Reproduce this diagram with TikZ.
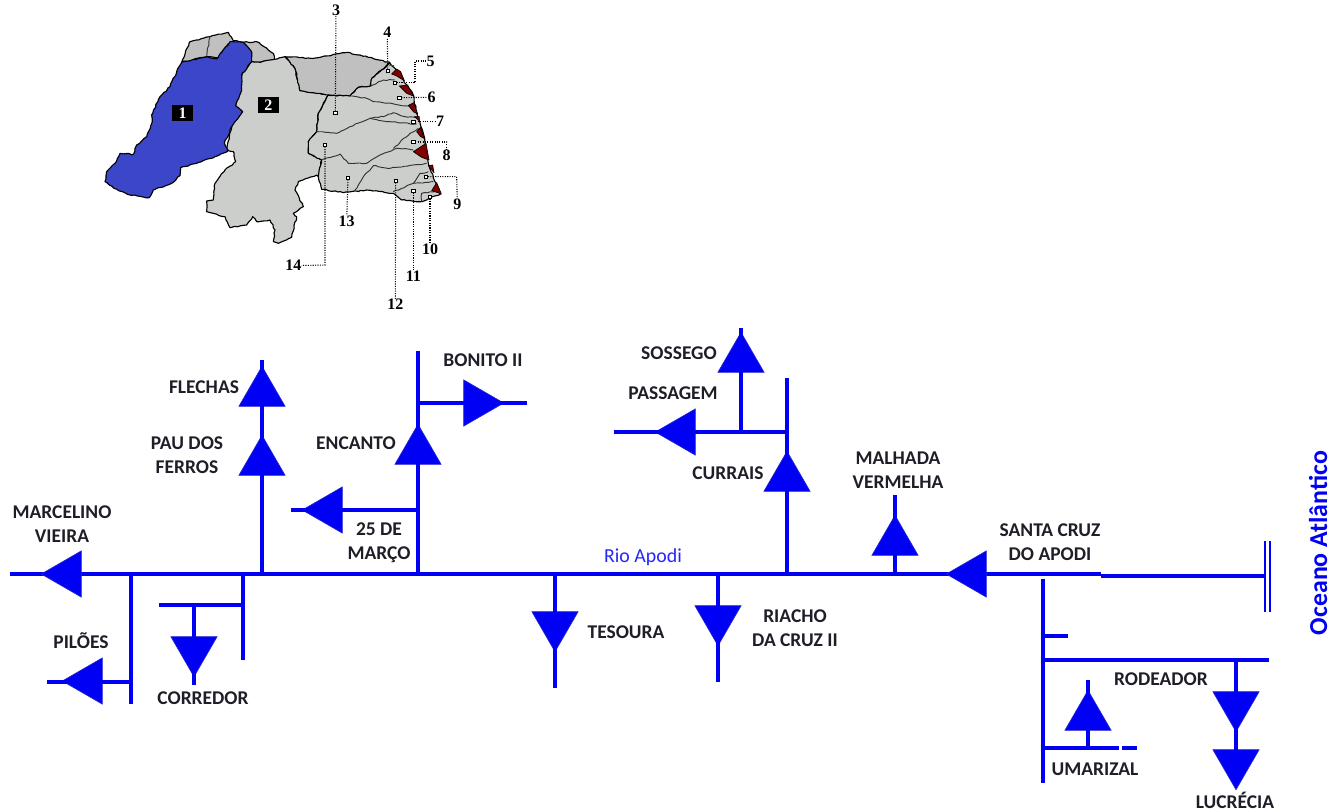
\documentclass[tikz,border=0pt]{standalone}
\usepackage{fontspec}
\setmainfont{Carlito}
\newfontfamily\mapfont{Liberation Serif}
\usetikzlibrary{shapes.geometric,decorations.pathmorphing}
\definecolor{riverblue}{RGB}{0,0,245}
\definecolor{labelink}{RGB}{30,30,40}
\definecolor{basinblue}{RGB}{60,70,200}
\definecolor{basinlight}{RGB}{203,206,202}
\definecolor{basindark}{RGB}{192,192,192}
\definecolor{coastred}{RGB}{128,0,0}
\pgfmathsetseed{7}
\tikzset{
  river/.style={draw=riverblue,line width=3pt},
  dam/.style={regular polygon,regular polygon sides=3,minimum size=40pt,inner sep=0pt,fill=riverblue,draw=riverblue!70!gray,line width=.5pt},
  damup/.style={dam,shape border rotate=0},
  damdown/.style={dam,shape border rotate=180},
  damleft/.style={dam,shape border rotate=90},
  damright/.style={dam,shape border rotate=270},
  lab/.style={font=\fontsize{14.6pt}{18pt}\selectfont\bfseries,text=labelink,inner sep=0pt,align=center},
  jag/.style={decorate,decoration={random steps,segment length=2.2pt,amplitude=.45pt}},
  basin/.style={draw=black,line width=.85pt,line join=round,jag},
  inner/.style={draw=black!80,line width=.7pt,line join=round,jag},
  redbasin/.style={fill=coastred,draw=black,line width=.5pt,line join=round},
  leader/.style={draw=black,line width=.8pt,densely dotted},
  mapnum/.style={font=\mapfont\fontsize{12pt}{13pt}\selectfont\bfseries,inner sep=0pt,text=black},
  marker/.style={draw=black,fill=white,line width=.4pt,minimum size=2.6pt,inner sep=0pt,rectangle},
  numbox/.style={fill=black,text=white,font=\mapfont\fontsize{12pt}{13pt}\selectfont\bfseries,minimum width=16pt,minimum height=12pt,inner sep=0pt}
}
\begin{document}
\begin{tikzpicture}[x=0.75pt,y=-0.75pt]
\useasboundingbox (0,0) rectangle (1341,811);
% ---------- map, whole outline in crop coordinates
\begin{scope}[shift={(280,0)},x=0.25pt,y=-0.25pt]
\path[basin,fill=basindark] (-295,187)--(-270,125)--(-210,110)--(-155,97)--(-140,122)--(-110,127)--(-70,125)--(-20,160)--(-17,180)--(-60,187)--(-85,185)--(-220,170)--cycle;
\path[inner] (-210,110)--(-220,170);
\path[inner] (-155,130)--(-190,177);
\path[basin,fill=basinlight] (-85,185)--(-60,187)--(-17,178)--(15,170)--(45,205)--(60,272)--(145,285)--(115,340)--(110,395)--(85,425)--(85,460)--(125,480)--(115,530)--(110,525)--(55,545)--(45,570)--(70,620)--(40,640)--(50,650)--(35,712)--(-5,730)--(-20,725)--(-15,690)--(-30,660)--(-70,665)--(-82,650)--(-100,675)--(-150,683)--(-165,650)--(-220,635)--(-220,603)--(-200,600)--(-195,550)--(-165,510)--(-133,485)--(-140,455)--(-160,450)--(-115,225)--cycle;
\path[basin,fill=basinblue] (-295,187)--(-220,170)--(-190,177)--(-150,125)--(-110,127)--(-85,155)--(-85,185)--(-115,225)--(-115,270)--(-133,318)--(-112,335)--(-145,380)--(-167,430)--(-155,452)--(-195,470)--(-250,490)--(-298,503)--(-300,527)--(-325,550)--(-380,570)--(-392,593)--(-450,585)--(-498,565)--(-525,545)--(-520,515)--(-495,490)--(-480,460)--(-440,463)--(-430,435)--(-400,410)--(-383,365)--(-385,345)--(-360,290)--(-330,260)--(-310,215)--cycle;
\node[numbox] (box1) at (-292,339) {1};
\node[numbox] (box2) at (-35,315) {2};
\path[basin,fill=basindark] (15,170)--(100,175)--(200,157)--(240,165)--(330,188)--(305,210)--(275,235)--(272,258)--(235,262)--(210,288)--(145,285)--(60,272)--(45,205)--cycle;
\path[basin,fill=basinlight] (145,285)--(210,288)--(235,262)--(272,258)--(275,235)--(305,210)--(330,190)--(345,205)--(370,240)--(400,285)--(410,340)--(430,400)--(445,490)--(465,545)--(482,582)--(425,605)--(365,600)--(340,580)--(260,570)--(190,578)--(125,568)--(115,530)--(125,480)--(85,460)--(85,425)--(110,395)--(115,340)--cycle;
\path[inner] (210,288)--(260,295)--(280,305)--(385,318)--(400,320);
\path[inner] (110,395)--(170,400)--(210,380)--(270,355)--(310,350)--(340,338)--(375,350)--(405,352);
\path[inner] (270,355)--(320,365)--(410,372);
\path[inner] (125,480)--(180,462)--(205,490)--(260,490)--(300,465)--(350,445)--(400,450);
\path[inner] (340,445)--(390,400)--(415,385);
\path[inner] (225,570)--(250,530)--(280,497)--(330,505)--(440,490);
\path[inner] (340,575)--(400,550)--(420,520)--(445,515);
\path[inner] (400,550)--(460,545);
\path[inner] (425,605)--(425,580)--(465,575);
\path[inner] (272,258)--(310,240)--(345,240);
\path[draw=green!50!black,line width=.8pt] (328,196)--(342,197);
\path[redbasin] (335,222)--(350,207)--(362,215)--(373,242)--(350,228)--cycle;
\path[redbasin] (358,258)--(383,255)--(400,288)--(380,280)--cycle;
\path[redbasin] (385,316)--(402,308)--(413,342)--(400,335)--cycle;
\path[redbasin] (403,350)--(418,350)--(418,362)--cycle;
\path[redbasin] (410,395)--(422,382)--(432,415)--(422,410)--cycle;
\path[redbasin] (400,455)--(438,430)--(447,480)--(425,472)--cycle;
\path[redbasin] (445,497)--(458,495)--(462,518)--cycle;
\path[redbasin] (455,572)--(470,548)--(484,582)--(465,575)--cycle;
% markers and labels
\node[marker] (m3) at (166,338) {};
\node[marker] (m4) at (323,212) {};
\node[marker] (m5) at (344,248) {};
\node[marker] (m6) at (358,293) {};
\node[marker] (m7) at (400,365) {};
\node[marker] (m8) at (400,426) {};
\node[marker] (m9) at (438,530) {};
\node[marker] (m10) at (450,590) {};
\node[marker] (m11) at (400,572) {};
\node[marker] (m12) at (347,542) {};
\node[marker] (m13) at (204,533) {};
\node[marker] (m14) at (135,434) {};
\node[mapnum] (n3) at (168,30) {3};
\node[mapnum] (n4) at (322,98) {4};
\node[mapnum] (n5) at (452,183) {5};
\node[mapnum] (n6) at (455,292) {6};
\node[mapnum] (n7) at (480,365) {7};
\node[mapnum] (n8) at (500,467) {8};
\node[mapnum] (n9) at (532,612) {9};
\node[mapnum] (n10) at (450,748) {10};
\node[mapnum] (n11) at (400,828) {11};
\node[mapnum] (n12) at (346,913) {12};
\node[mapnum] (n13) at (200,664) {13};
\node[mapnum] (n14) at (40,797) {14};
\draw[leader] (m3)--(n3);
\draw[leader] (m4)--(n4);
\draw[leader] (m5)--(405,248)--(405,183)--(n5);
\draw[leader] (m6)--(n6);
\draw[leader] (m7)--(n7);
\draw[leader] (m8)--(500,426)--(n8);
\draw[leader] (m9)--(530,530)--(n9);
\draw[leader] (m10)--(n10);
\draw[leader] (m11)--(n11);
\draw[leader] (m12)--(n12);
\draw[leader] (m13)--(n13);
\draw[leader] (m14)--(135,795)--(n14);
\end{scope}
% ---------- river network
\coordinate (west) at (10,574);
\coordinate (mouthA) at (1101,574);
\coordinate (mouthB) at (1101,575.5);
\coordinate (sea) at (1265,575.5);
\draw[river] (west)--(mouthA);
\draw[river] (mouthB)--(sea);
\draw[draw=riverblue,line width=1.5pt] (1265,541)--(1265,612) (1270,541)--(1270,612);
% dams
\node[damleft] (dMarcelino) at (68,574) {};
\node[damleft] (dPiloes) at (89,681) {};
\node[damdown] (dCorredor) at (194,650) {};
\node[damup] (dFlechas) at (262,393) {};
\node[damup] (dPau) at (262,462) {};
\node[damleft] (dMarco) at (329,510) {};
\node[damup] (dEncanto) at (418,451) {};
\node[damright] (dBonito) at (477,403) {};
\node[damdown] (dTesoura) at (555,625) {};
\node[damdown] (dRiacho) at (718,619) {};
\node[damleft] (dPassagem) at (682,432) {};
\node[damup] (dSossego) at (741,359) {};
\node[damup] (dCurrais) at (787,478) {};
\node[damup] (dMalhada) at (895,542) {};
\node[damleft] (dSanta) at (973,574) {};
\node[damup] (dUmarizal) at (1088,717) {};
\node[damdown] (dRodeador) at (1236,705) {};
\node[damdown] (dLucrecia) at (1236,763) {};
% junctions on the main stem
\coordinate (j131) at (131,574);
\coordinate (j243) at (243,574);
\coordinate (j262) at (262,574);
\coordinate (j418) at (418,574);
\coordinate (j555) at (555,574);
\coordinate (j718) at (718,574);
\coordinate (j787) at (787,574);
\coordinate (j895) at (895,574);
% branches
\draw[river] (j131)--(131,704);
\draw[river] (131,682)--(47,682);
\draw[river] (j243)--(243,660);
\draw[river] (243,605)--(159,605);
\draw[river] (194,605)--(194,685);
\draw[river] (j262)--(262,360);
\draw[river] (j418)--(418,351);
\draw[river] (418,510)--(291,510);
\draw[river] (418,403)--(527,403);
\draw[river] (j555)--(555,688);
\draw[river] (j718)--(718,682);
\draw[river] (j787)--(787,378);
\draw[river] (787,432)--(614,432);
\draw[river] (741,432)--(741,328);
\draw[river] (j895)--(895,495);
\draw[river] (1043,579)--(1043,783);
\draw[river] (1043,636)--(1068,636);
\draw[river] (1043,660)--(1269,660);
\draw[river] (1236,660)--(1236,770);
\draw[river] (1043,748)--(1119,748);
\draw[river] (1122,748)--(1137,748);
\draw[river] (1088,748)--(1088,680);
% labels
\node[lab] (tMarcelino) at (62,524.5) {MARCELINO\\VIEIRA};
\node[lab] (tPiloes) at (81,641) {PILÕES};
\node[lab] (tCorredor) at (203,698) {CORREDOR};
\node[lab] (tFlechas) at (204,387) {FLECHAS};
\node[lab] (tPau) at (187,455.5) {PAU DOS\\FERROS};
\node[lab] (tEncanto) at (356,443) {ENCANTO};
\node[lab] (tBonito) at (483,360) {BONITO II};
\node[lab] (tMarco) at (379,543) {25 DE\\MARÇO};
\node[lab] (tSossego) at (679,353) {SOSSEGO};
\node[lab] (tPassagem) at (673,393) {PASSAGEM};
\node[lab] (tCurrais) at (728,473) {CURRAIS};
\node[lab] (tMalhada) at (898,470) {MALHADA\\VERMELHA};
\node[lab] (tSanta) at (1050,542) {SANTA CRUZ\\DO APODI};
\node[lab] (tTesoura) at (626,632) {TESOURA};
\node[lab] (tRiacho) at (795,628) {RIACHO\\DA CRUZ II};
\node[lab] (tRodeador) at (1161,679) {RODEADOR};
\node[lab] (tUmarizal) at (1095,769) {UMARIZAL};
\node[lab] (tLucrecia) at (1235,800.5) {LUCRÉCIA};
\node[inner sep=0pt,text=riverblue!85!white,font=\fontsize{14.9pt}{16pt}\selectfont] (tRio) at (643,557) {Rio Apodi};
\node[inner sep=0pt,text=riverblue,rotate=90,font=\fontsize{19.4pt}{21pt}\selectfont\bfseries] (tOceano) at (1318,543) {Oceano Atlântico};
\end{tikzpicture}
\end{document}
